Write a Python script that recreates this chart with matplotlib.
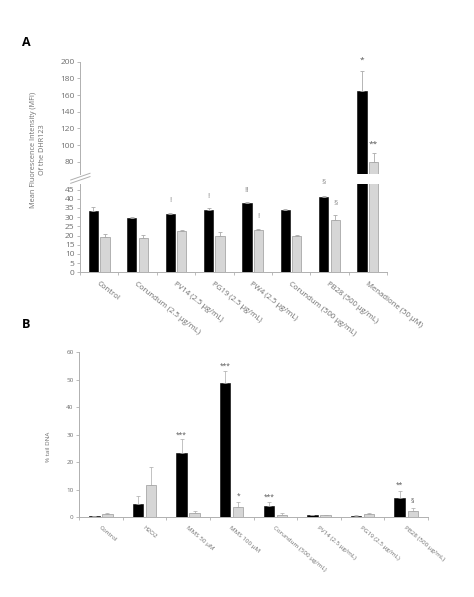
import numpy as np
from matplotlib import pyplot as plt
from matplotlib.lines import Line2D

plt.rcParams['font.family'] = ['Open Sans', 'DejaVu Sans']

# panel A data
a_labels = ["Control", "Corundum (2.5 μg/mL)", "PV14 (2.5 μg/mL)", "PG19 (2.5 μg/mL)",
            "PW4 (2.5 μg/mL)", "Corundum (500 μg/mL)", "PB28 (500 μg/mL)", "Menadione (50 μM)"]
a_black = [33.4, 29.7, 31.9, 34.1, 37.6, 34.1, 41.1, 164.8]
a_black_err = [2.0, 0.4, 0.6, 1.0, 0.6, 0.4, 0.5, 24.0]
a_grey = [19.4, 18.4, 22.5, 19.6, 23.0, 19.6, 28.5, 80.0]
a_grey_err = [1.5, 1.8, 0.6, 2.2, 0.7, 0.6, 2.6, 10.0]
# (group, offset, y, text)
a_marks = [(2, -1, 39.3, "!"), (3, -1, 41.5, "!"), (4, -1, 44.4, "!!"), (4, 1, 30.2, "!"),
           (6, -1, 48.7, "§"), (6, 1, 37.2, "§")]
a_marks_top = [(7, -1, 202, "*"), (7, 1, 101, "**")]

# panel B data
b_labels = ["Control", "H2O2", "MMS 50 μM", "MMS 100 μM", "Corundum (500 μg/mL)",
            "PV14 (2.5 μg/mL)", "PG19 (2.5 μg/mL)", "PB28 (500 μg/mL)"]
b_black = [0.4, 4.8, 23.2, 48.7, 4.2, 0.7, 0.6, 6.9]
b_black_err = [0.2, 3.0, 5.2, 4.6, 1.3, 0.1, 0.1, 2.8]
b_grey = [1.1, 11.6, 1.6, 3.8, 1.0, 0.8, 1.2, 2.2]
b_grey_err = [0.6, 6.7, 0.8, 1.7, 0.4, 0.2, 0.4, 1.1]
b_marks = [(2, -1, 29.7, "***"), (3, -1, 54.8, "***"), (3, 1, 7.7, "*"),
           (4, -1, 7.3, "***"), (7, -1, 11.5, "**"), (7, 1, 5.7, "§")]

spine_col = '#b0b0b0'
txt_col = '#6e6e6e'
grey_fill = '#d6d6d6'
off = 0.15
w = 0.24


def draw_bars(ax, black, berr, grey, gerr, lw_err=0.6):
    x = np.arange(len(black))
    ax.bar(x - off, black, w, color='black', edgecolor='black', linewidth=0.4)
    ax.bar(x + off, grey, w, color=grey_fill, edgecolor='#9a9a9a', linewidth=0.5)
    ax.errorbar(x - off, black, yerr=[np.zeros(len(black)), berr], fmt='none',
                ecolor='#aaaaaa', elinewidth=lw_err, capsize=1.2, capthick=lw_err)
    ax.errorbar(x + off, grey, yerr=[np.zeros(len(grey)), gerr], fmt='none',
                ecolor='#aaaaaa', elinewidth=lw_err, capsize=1.2, capthick=lw_err)
    ax.set_xlim(-0.5, len(black) - 0.5)


def style(ax, fs):
    for s in ['top', 'right']:
        ax.spines[s].set_visible(False)
    for s in ['left', 'bottom']:
        ax.spines[s].set_color(spine_col)
        ax.spines[s].set_linewidth(0.7)
    ax.tick_params(axis='y', colors=spine_col, labelcolor=txt_col, labelsize=fs,
                   length=2.5, width=0.6, pad=1.5)


fig = plt.figure(figsize=(4.74, 5.97), dpi=100)

# ---- panel A, broken axis
ax_top = fig.add_axes([0.1688, 0.7082, 0.6477, 0.1884])
ax_low = fig.add_axes([0.1688, 0.5439, 0.6477, 0.1477])

draw_bars(ax_top, a_black, a_black_err, a_grey, a_grey_err)
draw_bars(ax_low, a_black, a_black_err, a_grey, a_grey_err)
ax_top.set_ylim(65, 200)
ax_top.set_yticks(np.arange(80, 201, 20))
ax_low.set_ylim(0, 48)
ax_low.set_yticks(np.arange(0, 46, 5))
style(ax_top, 6)
style(ax_low, 6)
ax_top.spines['bottom'].set_visible(False)
ax_top.set_xticks([])

ax_low.set_xticks(np.arange(-0.5, 8, 1))
ax_low.set_xticklabels([])
ax_low.tick_params(axis='x', colors=spine_col, length=2, width=0.6)
for i, lab in enumerate(a_labels):
    ax_low.text(i, -4.5, lab, rotation=-38, rotation_mode='anchor', ha='left', va='top',
                fontsize=5.6, color=txt_col)

for g, side, y, t in a_marks:
    ax_low.text(g + side * off, y, t, ha='center', va='center', fontsize=6,
                color='#8a8a8a', clip_on=False)
for g, side, y, t in a_marks_top:
    ax_top.text(g + side * off, y, t, ha='center', va='center', fontsize=6,
                color='#555555', clip_on=False)

# break marks
for yy in [180.0, 183.3]:
    fig.add_artist(Line2D([70.7 / 474, 90 / 474], [1 - yy / 597, 1 - (yy - 6.7) / 597],
                          color=spine_col, linewidth=0.7))

fig.text(38 / 474, 1 - 150 / 597, "Mean Fluorescence Intensity (MFI)\nOf the DHR123",
         rotation=90, ha='center', va='center', multialignment='center',
         fontsize=5.2, color=txt_col, linespacing=1.5)
fig.text(26 / 474, 1 - 43 / 597, "A", fontsize=9, fontweight='bold', ha='center', va='center')

# ---- panel B
ax_b = fig.add_axes([0.1667, 0.1335, 0.7363, 0.2764])
draw_bars(ax_b, b_black, b_black_err, b_grey, b_grey_err, lw_err=0.5)
ax_b.set_ylim(0, 60)
ax_b.set_yticks(np.arange(0, 61, 10))
style(ax_b, 4.5)
ax_b.set_xticks(np.arange(-0.5, 8, 1))
ax_b.set_xticklabels([])
ax_b.tick_params(axis='x', colors=spine_col, length=2, width=0.6)
for i, lab in enumerate(b_labels):
    ax_b.text(i, -2.8, lab, rotation=-40, rotation_mode='anchor', ha='left', va='top',
              fontsize=4.5, color=txt_col)
for g, side, y, t in b_marks:
    ax_b.text(g + side * off, y, t, ha='center', va='center', fontsize=4.8,
              color='#555555', clip_on=False)

fig.text(48 / 474, 1 - 447 / 597, "% tail DNA", rotation=90, ha='center', va='center',
         fontsize=4.5, color=txt_col)
fig.text(26 / 474, 1 - 325 / 597, "B", fontsize=9, fontweight='bold', ha='center', va='center')

fig.savefig("out.png", dpi=100)
